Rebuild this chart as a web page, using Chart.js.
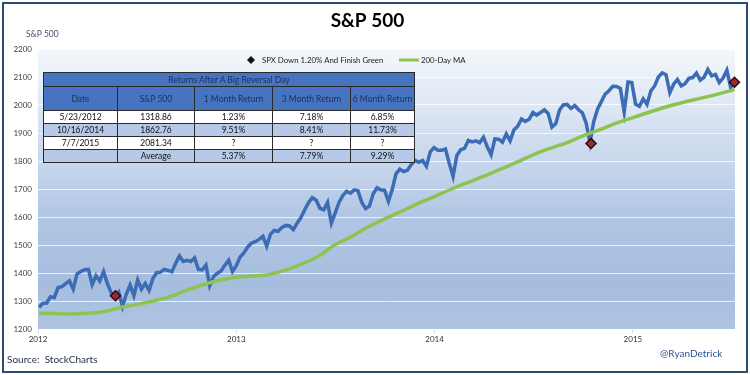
<!DOCTYPE html>
<html>
<head>
<meta charset="utf-8">
<script src="https://cdn.jsdelivr.net/npm/chart.js@4.4.1/dist/chart.umd.min.js"></script>
<style>
  html, body { margin: 0; padding: 0; background: #fff; }
  #wrap { position: relative; width: 750px; height: 375px; font-family: Lato, "Open Sans", sans-serif; overflow: hidden; }
  #chart { position: absolute; left: 0; top: 0; }
  #frame { position: absolute; left: 2px; top: 2px; width: 742px; height: 367px; border: 2px solid #2d4a73; pointer-events: none; }
  #returns { position: absolute; left: 43px; top: 72px; width: 371px; border-collapse: collapse; table-layout: fixed;
             font-size: 8.5px; color: #111; border: 1.5px solid #1a1a1a; }
  #returns td { border: 1px solid #2a2a2a; padding: 0; text-align: center; height: 12px; line-height: 10px; background: #fff; white-space: nowrap; }
  #returns tr.ttl td { background: #4674c1; color: #1c2f57; height: 13px; }
  #returns tr.hdr td { background: #4674c1; color: #1c2f57; height: 23px; }
  #returns tr.alt td { background: #b6c9e8; }
  #source { position: absolute; left: 7px; top: 353px; font-size: 10px; color: #1f2d3d; white-space: pre; }
  #handle { position: absolute; left: 660px; top: 347px; font-size: 10px; color: #2f5597; }
</style>
</head>
<body>
<div id="wrap">
  <canvas id="chart" width="750" height="375"></canvas>
  <table id="returns"></table>
  <div id="source">Source:  StockCharts</div>
  <div id="handle">@RyanDetrick</div>
  <div id="frame"></div>
</div>
<script>
// weekly S&P 500 closes, one per week starting 2012-01-03
const spxStart = "2012-01-03";
const spxWeekly = [
  // 2012
  1277, 1292, 1293, 1315, 1312,
  1348, 1351, 1362, 1372,
  1343, 1396, 1405, 1412,
  1413, 1358, 1390, 1371,
  1405, 1363, 1330, 1316, 1332,
  1280, 1325, 1357, 1319,
  1375, 1342, 1363, 1338, 1380,
  1401, 1403, 1413, 1409,
  1404, 1434, 1461, 1441,
  1445, 1441, 1454, 1413, 1411,
  1428, 1355, 1387, 1399,
  1407, 1428, 1446, 1405,
  // 2013
  1426, 1457, 1472, 1493, 1507,
  1512, 1520, 1531, 1496,
  1539, 1552, 1549, 1563,
  1570, 1568, 1555, 1578, 1598,
  1626, 1651, 1669, 1660,
  1631, 1626, 1652, 1578,
  1614, 1652, 1676, 1692, 1685,
  1697, 1694, 1652, 1630,
  1639, 1683, 1704, 1697,
  1695, 1656, 1698, 1754, 1771,
  1762, 1767, 1787, 1802,
  1795, 1802, 1781, 1833, 1848,
  // 2014
  1838, 1838, 1843, 1792,
  1745, 1820, 1840, 1845,
  1873, 1868, 1872, 1865,
  1885, 1851, 1822, 1879, 1878,
  1867, 1897, 1872, 1911,
  1924, 1950, 1941, 1949,
  1973, 1964, 1973, 1983, 1970,
  1921, 1933, 1982, 2000,
  2002, 1988, 1998, 1983, 1972,
  1935, 1866, 1941, 1985,
  2012, 2039, 2051, 2067,
  2066, 2059, 1975, 2082, 2080,
  // 2015
  2003, 1995, 2022, 2002,
  2050, 2068, 2100, 2115,
  2108, 2044, 2074, 2091, 2068,
  2076, 2095, 2098, 2114,
  2089, 2099, 2127, 2104,
  2109, 2080, 2096, 2124, 2063,
  2081.34
];

// 200-day moving average
const maDates = [
  "2012-01-03", "2012-02-01", "2012-03-01", "2012-04-01", "2012-05-01", "2012-06-01",
  "2012-07-01", "2012-08-01", "2012-09-01", "2012-10-01", "2012-11-01", "2012-12-01",
  "2013-01-01", "2013-02-01", "2013-03-01", "2013-04-01", "2013-05-01", "2013-06-01",
  "2013-07-01", "2013-08-01", "2013-09-01", "2013-10-01", "2013-11-01", "2013-12-01",
  "2014-01-01", "2014-02-01", "2014-03-01", "2014-04-01", "2014-05-01", "2014-06-01",
  "2014-07-01", "2014-08-01", "2014-09-01", "2014-10-01", "2014-11-01", "2014-12-01",
  "2015-01-01", "2015-02-01", "2015-03-01", "2015-04-01", "2015-05-01", "2015-06-01",
  "2015-07-01", "2015-07-07"
];
const maValues = [
  1256, 1255, 1254, 1256, 1262, 1277, 1287, 1300, 1316, 1338, 1358, 1374,
  1385, 1389, 1394, 1410, 1432, 1460, 1500, 1530, 1565, 1593, 1620, 1648,
  1673, 1700, 1722, 1745, 1770, 1795, 1822, 1845, 1865, 1890, 1912, 1935,
  1955, 1975, 1992, 2008, 2022, 2036, 2052, 2055
];

// big reversal days (table + diamonds)
const reversalDates = ["2012-05-23", "2014-10-16", "2015-07-07"];
const reversalCloses = [1318.86, 1862.76, 2081.34];
const ret1m = ["1.23%", "9.51%", "?"];
const ret3m = ["7.18%", "8.41%", "?"];
const ret6m = ["6.85%", "11.73%", "?"];
const avgReturns = ["5.37%", "7.79%", "9.29%"];
const tableTitle = "Returns After A Big Reversal Day";
const tableHeaders = ["Date", "S&P 500", "1 Month Return", "3 Month Return", "6 Month Return"];

const yMin = 1200, yMax = 2200, yStep = 100;
const xMin = 2012, xMax = 2015.515;

function toYear(iso) {
  const [y, m, d] = iso.split("-").map(Number);
  const start = Date.UTC(y, 0, 1), end = Date.UTC(y + 1, 0, 1);
  return y + (Date.UTC(y, m - 1, d) - start) / (end - start);
}
function isoOf(ms) { return new Date(ms).toISOString().slice(0, 10); }
function fmtDate(iso) {
  const [y, m, d] = iso.split("-").map(Number);
  return m + "/" + d + "/" + y;
}

const t0 = Date.parse(spxStart + "T00:00:00Z");
const spxPoints = spxWeekly.map((v, i) => ({ x: toYear(isoOf(t0 + i * 7 * 86400000)), y: v }));
const maPoints = maDates.map((d, i) => ({ x: toYear(d), y: maValues[i] }));
const revPoints = reversalDates.map((d, i) => ({ x: toYear(d), y: reversalCloses[i] }));

// table
const cols = [74, 77, 78, 78, 64];
let html = "<colgroup>" + cols.map(w => `<col style="width:${w}px">`).join("") + "</colgroup>";
html += `<tr class="ttl"><td colspan="5">${tableTitle}</td></tr>`;
html += `<tr class="hdr">` + tableHeaders.map(h => `<td>${h}</td>`).join("") + "</tr>";
reversalDates.forEach((d, i) => {
  html += `<tr class="${i % 2 ? "alt" : ""}"><td>${fmtDate(d)}</td><td>${reversalCloses[i].toFixed(2)}</td>` +
          `<td>${ret1m[i]}</td><td>${ret3m[i]}</td><td>${ret6m[i]}</td></tr>`;
});
html += `<tr class="alt"><td></td><td>Average</td>` + avgReturns.map(r => `<td>${r}</td>`).join("") + "</tr>";
document.getElementById("returns").innerHTML = html;

const FONT = "Lato, 'Open Sans', sans-serif";

const decor = {
  id: "decor",
  beforeDraw(chart) {
    const { ctx, chartArea: a } = chart;
    const g = ctx.createLinearGradient(0, a.top, 0, a.bottom);
    g.addColorStop(0, "#f4f7fc");
    g.addColorStop(0.3, "#d3dff0");
    g.addColorStop(0.6, "#b1c6e4");
    g.addColorStop(0.85, "#a6bdde");
    g.addColorStop(1, "#afc4e2");
    ctx.save();
    ctx.fillStyle = g;
    ctx.fillRect(a.left, a.top, a.right - a.left, a.bottom - a.top);
    ctx.restore();
  },
  afterDraw(chart) {
    const { ctx } = chart;
    ctx.save();
    // axis title, horizontal above the axis
    ctx.font = "8.5px " + FONT;
    ctx.fillStyle = "#44546a";
    ctx.textBaseline = "middle";
    ctx.textAlign = "left";
    ctx.fillText("S&P 500", 26, 34);

    // legend, drawn inside the plot
    const ds = chart.data.datasets;
    const ly = 60;
    ctx.font = "7.8px " + FONT;
    ctx.fillStyle = "#111";
    ctx.beginPath();
    ctx.moveTo(251, ly - 4); ctx.lineTo(255, ly); ctx.lineTo(251, ly + 4); ctx.lineTo(247, ly);
    ctx.closePath();
    ctx.fill();
    ctx.fillStyle = "#222";
    ctx.fillText(ds[0].label, 262, ly);
    ctx.strokeStyle = ds[1].borderColor;
    ctx.lineWidth = 3;
    ctx.beginPath(); ctx.moveTo(399, ly); ctx.lineTo(419, ly); ctx.stroke();
    ctx.fillText(ds[1].label, 421, ly);
    ctx.restore();
  }
};

new Chart(document.getElementById("chart"), {
  type: "line",
  data: {
    datasets: [
      {
        label: "SPX Down 1.20% And Finish Green",
        data: revPoints,
        showLine: false,
        pointStyle: "rectRot",
        pointRadius: 5,
        pointBackgroundColor: "#a3282e",
        pointBorderColor: "#2a0b0b",
        pointBorderWidth: 1.5,
        clip: false,
        order: 0
      },
      {
        label: "200-Day MA",
        data: maPoints,
        borderColor: "#8dc351",
        borderWidth: 3.5,
        pointRadius: 0,
        cubicInterpolationMode: "monotone",
        order: 1
      },
      {
        label: "S&P 500",
        data: spxPoints,
        borderColor: "#3b6cb4",
        borderWidth: 3.5,
        pointRadius: 0,
        tension: 0,
        order: 2
      }
    ]
  },
  options: {
    responsive: false,
    animation: false,
    layout: { padding: { left: 0, right: 15, top: 0, bottom: 0 } },
    plugins: {
      legend: { display: false },
      tooltip: { enabled: false },
      title: {
        display: true,
        text: "S&P 500",
        color: "#000",
        font: { family: FONT, size: 19, weight: "bold", lineHeight: 1.2 },
        padding: { top: 9, bottom: 17.2 }
      }
    },
    scales: {
      x: {
        type: "linear",
        min: xMin,
        max: xMax,
        ticks: {
          stepSize: 1,
          color: "#333",
          font: { family: FONT, size: 8 },
          padding: 2,
          maxRotation: 0,
          callback: v => String(v)
        },
        afterBuildTicks: s => { s.ticks = s.ticks.filter(t => Number.isInteger(t.value)); },
        grid: { drawOnChartArea: false, drawTicks: true, tickLength: 4, color: "#d0d8e4" },
        border: { display: false },
        afterFit: s => { s.height = 46; }
      },
      y: {
        min: yMin,
        max: yMax,
        ticks: {
          stepSize: yStep,
          color: "#404040",
          font: { family: FONT, size: 8 },
          padding: 6,
          callback: v => String(v)
        },
        grid: { color: "rgba(255,255,255,0.75)", drawTicks: false },
        border: { display: false },
        afterFit: s => { s.width = 38; }
      }
    }
  },
  plugins: [decor]
});
</script>
</body>
</html>
